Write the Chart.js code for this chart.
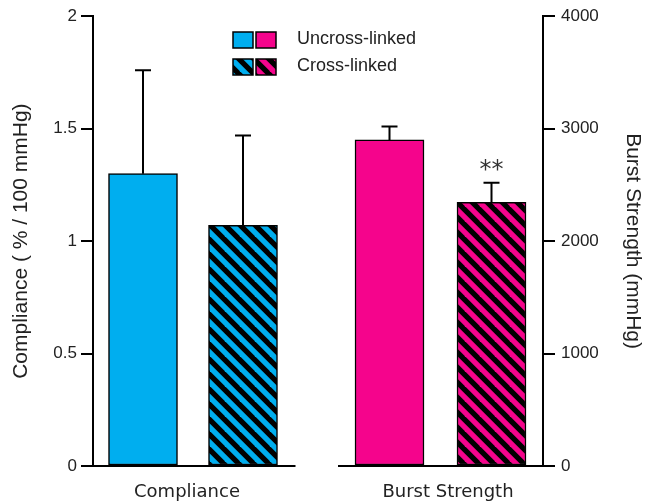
<!DOCTYPE html>
<html>
<head>
<meta charset="utf-8">
<script src="https://cdn.jsdelivr.net/npm/chart.js@4/dist/chart.umd.min.js"></script>
<style>
  html, body { margin: 0; padding: 0; background: #fff; }
  #wrap { width: 646px; height: 503px; }
</style>
</head>
<body>
<div id="wrap"><canvas id="chart" width="646" height="503"></canvas></div>
<script>
const categories = ['Compliance', 'Burst Strength'];
const categoryPos = [1.88, 7.1];

const compliancePos = [1, 3];
const complianceValues = [1.30, 1.07];
const complianceErrors = [0.46, 0.40];

const burstPos = [5.93, 7.97];
const burstValues = [2900, 2345];
const burstErrors = [120, 175];

const seriesNames = ['Uncross-linked', 'Cross-linked'];
const leftTicks = [0, 0.5, 1, 1.5, 2];
const rightTicks = [0, 1000, 2000, 3000, 4000];
const axisSegments = [[0, 4.05], [4.9, 9]];

const BLUE = '#00AEEF';
const PINK = '#F5048C';
const TEXT = '#222';

function hatch(color) {
  const p = 15;
  const c = document.createElement('canvas');
  c.width = p; c.height = p;
  const g = c.getContext('2d');
  g.fillStyle = color;
  g.fillRect(0, 0, p, p);
  g.strokeStyle = '#000';
  g.lineWidth = p / Math.SQRT2 / 2;
  for (let k = -1; k <= 1; k++) {
    g.beginPath();
    g.moveTo(k * p - 2, -2);
    g.lineTo(k * p + p + 2, p + 2);
    g.stroke();
  }
  return g.createPattern(c, 'repeat');
}
const blueHatch = hatch(BLUE);
const pinkHatch = hatch(PINK);

const extras = {
  id: 'extras',
  afterDatasetsDraw(chart) {
    const ctx = chart.ctx;
    const xs = chart.scales.x;
    ctx.save();
    ctx.strokeStyle = '#000';
    ctx.lineWidth = 2;

    // x axis in two pieces
    const yb = chart.chartArea.bottom;
    axisSegments.forEach(([a, b]) => {
      ctx.beginPath();
      ctx.moveTo(xs.getPixelForValue(a), yb);
      ctx.lineTo(xs.getPixelForValue(b), yb);
      ctx.stroke();
    });

    // upper error bars
    const errs = [[complianceValues, complianceErrors, 'y'], [burstValues, burstErrors, 'y1']];
    errs.forEach(([vals, es, axis], di) => {
      const meta = chart.getDatasetMeta(di);
      const ys = chart.scales[axis];
      meta.data.forEach((bar, i) => {
        const yTop = ys.getPixelForValue(vals[i]);
        const yEnd = ys.getPixelForValue(vals[i] + es[i]);
        ctx.beginPath();
        ctx.moveTo(bar.x, yTop);
        ctx.lineTo(bar.x, yEnd);
        ctx.moveTo(bar.x - 8, yEnd);
        ctx.lineTo(bar.x + 8, yEnd);
        ctx.stroke();
      });
    });

    // significance mark
    const b4 = chart.getDatasetMeta(1).data[1];
    const yStar = chart.scales.y1.getPixelForValue(burstValues[1] + burstErrors[1]);
    ctx.fillStyle = '#333';
    ctx.font = '24px "DejaVu Sans", sans-serif';
    ctx.textAlign = 'center';
    ctx.textBaseline = 'middle';
    ctx.fillText('**', b4.x, yStar - 12);

    // legend
    const lx = 233, rows = [32, 59];
    const fills = [[BLUE, PINK], [blueHatch, pinkHatch]];
    ctx.font = '18px "Liberation Sans", Arial, sans-serif';
    ctx.textAlign = 'left';
    rows.forEach((ry, r) => {
      fills[r].forEach((f, j) => {
        const bx = lx + j * 23;
        ctx.fillStyle = f;
        ctx.fillRect(bx, ry, 20, 16);
        ctx.lineWidth = 1.5;
        ctx.strokeRect(bx, ry, 20, 16);
      });
      ctx.fillStyle = TEXT;
      ctx.fillText(seriesNames[r], 297, ry + 7);
    });
    ctx.restore();
  }
};

const tickFont = { family: '"Liberation Sans", Arial, sans-serif', size: 17 };
const titleFont = { family: '"Liberation Sans", Arial, sans-serif', size: 21 };

new Chart(document.getElementById('chart'), {
  type: 'bar',
  data: {
    datasets: [
      {
        label: 'Compliance',
        data: compliancePos.map((x, i) => ({ x, y: complianceValues[i] })),
        backgroundColor: [BLUE, blueHatch],
        yAxisID: 'y'
      },
      {
        label: 'Burst Strength',
        data: burstPos.map((x, i) => ({ x, y: burstValues[i] })),
        backgroundColor: [PINK, pinkHatch],
        yAxisID: 'y1'
      }
    ]
  },
  options: {
    responsive: false,
    animation: false,
    layout: { padding: { top: 16, left: 0, right: 0, bottom: 0 } },
    datasets: {
      bar: {
        grouped: false,
        barThickness: 69,
        borderColor: '#000',
        borderWidth: 1.5,
        borderSkipped: false
      }
    },
    plugins: { legend: { display: false }, tooltip: { enabled: false } },
    scales: {
      x: {
        type: 'linear',
        min: 0, max: 9,
        offset: false,
        bounds: 'data',
        grid: { display: false, drawTicks: false, offset: false },
        border: { display: false },
        afterBuildTicks: s => { s.ticks = categoryPos.map(v => ({ value: v })); },
        afterFit: s => { s.height = 37; },
        ticks: {
          padding: 16,
          color: TEXT,
          font: { family: '"DejaVu Sans", sans-serif', size: 18 },
          callback: (v, i) => categories[i]
        }
      },
      y: {
        position: 'left',
        min: 0, max: 2,
        afterBuildTicks: s => { s.ticks = leftTicks.map(v => ({ value: v })); },
        afterFit: s => { s.width = 93; },
        grid: { drawOnChartArea: false, tickLength: 12, color: '#000', lineWidth: 2 },
        border: { color: '#000', width: 2 },
        ticks: { padding: 4, color: TEXT, font: tickFont, callback: v => String(v) },
        title: { display: true, text: 'Compliance ( % / 100 mmHg)', color: TEXT, font: titleFont, padding: { top: 9, bottom: 0 } }
      },
      y1: {
        position: 'right',
        min: 0, max: 4000,
        afterBuildTicks: s => { s.ticks = rightTicks.map(v => ({ value: v })); },
        afterFit: s => { s.width = 103; },
        grid: { drawOnChartArea: false, tickLength: 12, color: '#000', lineWidth: 2 },
        border: { color: '#000', width: 2 },
        ticks: { padding: 6, color: TEXT, font: tickFont, callback: v => String(v) },
        title: { display: true, text: 'Burst Strength (mmHg)', color: TEXT, font: titleFont, padding: { top: 1, bottom: 0 } }
      }
    }
  },
  plugins: [extras]
});
</script>
</body>
</html>
